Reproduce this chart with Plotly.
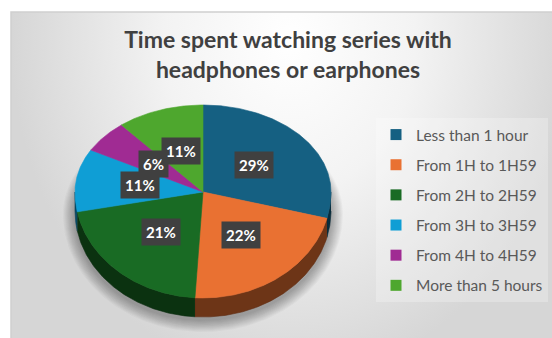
import numpy as np
import plotly.graph_objects as go

# ---- data -------------------------------------------------------------
categories = ["Less than 1 hour", "From 1H to 1H59", "From 2H to 2H59",
              "From 3H to 3H59", "From 4H to 4H59", "More than 5 hours"]
shares = [29, 22, 21, 11, 6, 11]
colors = ["#156082", "#E97132", "#196B24", "#0F9ED5", "#A02B93", "#4EA72E"]
title_text = "Time spent watching series with<br>headphones or earphones"

# ---- geometry of the tilted pie (pixel-like axis units) ---------------
W, H = 552, 338
CX, CY = 203, 192          # apex of the top face
RX = 128                   # horizontal radius
RY_BACK, RY_FRONT = 87, 106  # perspective: back half shorter than front
DEPTH = 19                 # thickness of the disc
LABEL_R = 0.5              # labels placed halfway along the mid-angle


def darker(hex_color, k=0.5):
    h = hex_color.lstrip("#")
    r, g, b = (int(h[i:i + 2], 16) for i in (0, 2, 4))
    return "#%02x%02x%02x" % (int(r * k), int(g * k), int(b * k))


def rim(theta_deg, dy=0.0, grow=0.0, scale=1.0):
    t = np.radians(np.asarray(theta_deg, dtype=float))
    ry = np.where(np.cos(t) > 0, RY_BACK, RY_FRONT) * scale + grow
    x = CX + (RX * scale + grow) * np.sin(t)
    y = CY - ry * np.cos(t) + dy
    return x, y


total = float(sum(shares))
ends = np.cumsum(shares) / total * 360.0
starts = np.concatenate([[0.0], ends[:-1]])

fig = go.Figure()

# background panel with a soft radial sheen (spike widens the bbox upward)
fig.add_trace(go.Scatter(
    x=[11, 11, 569, 569, 11, 11], y=[-300, 12, 12, 380, 380, 12],
    mode="lines", line=dict(width=0), fill="toself",
    fillgradient=dict(type="radial",
                      colorscale=[[0, "#ffffff"], [0.45, "#f3f3f3"], [1, "#d6d6d6"]]),
    hoverinfo="skip", showlegend=False))

# soft drop shadow under the disc
full = np.linspace(0, 360, 361)
for k in range(1, 13):
    sx, sy = rim(full, dy=DEPTH + 3, grow=k)
    fig.add_trace(go.Scatter(x=sx, y=sy, mode="lines", line=dict(width=0),
                             fill="toself", fillcolor="rgba(0,0,0,0.028)",
                             hoverinfo="skip", showlegend=False))

# visible side walls (front half of the disc)
for s, e, c in zip(starts, ends, colors):
    a, b = max(s, 90.0), min(e, 270.0)
    if a >= b:
        continue
    th = np.linspace(a, b, max(int(b - a) * 2, 2))
    tx, ty = rim(th)
    bx, by = rim(th[::-1], dy=DEPTH)
    fig.add_trace(go.Scatter(
        x=np.concatenate([tx, bx]), y=np.concatenate([ty, by]),
        mode="lines", line=dict(width=0.6, color=darker(c, 0.42)),
        fill="toself", fillcolor=darker(c, 0.47),
        hoverinfo="skip", showlegend=False))

# top face slices
for s, e, c, name in zip(starts, ends, colors, categories):
    th = np.linspace(s, e, max(int(e - s) * 2, 2))
    ax, ay = rim(th)
    fig.add_trace(go.Scatter(
        x=np.concatenate([[CX], ax, [CX]]), y=np.concatenate([[CY], ay, [CY]]),
        mode="lines", line=dict(width=0.6, color=c),
        fill="toself", fillcolor=c, name=name,
        hoverinfo="name", showlegend=False))

# percentage labels
for s, e, v in zip(starts, ends, shares):
    lx, ly = rim((s + e) / 2.0, scale=LABEL_R)
    fig.add_annotation(
        x=float(lx), y=float(ly), xref="x", yref="y",
        text="<b>%d%%</b>" % round(v / total * 100), showarrow=False,
        font=dict(family="Lato", size=15, color="white"),
        bgcolor="#404040", borderpad=4)

# legend entries
for i, (name, c) in enumerate(zip(categories, colors)):
    fig.add_trace(go.Scatter(
        x=[None], y=[None], mode="markers", name=name, legendgroup=str(i),
        marker=dict(symbol="square", size=11, color=c)))

# chart frame
fig.add_shape(type="rect", xref="x", yref="y", x0=-5, y0=-5, x1=W + 5, y1=12,
              fillcolor="white", line=dict(width=0), layer="above")
fig.add_shape(type="rect", xref="x", yref="y", x0=-5, y0=-5, x1=11, y1=H + 5,
              fillcolor="white", line=dict(width=0), layer="above")
fig.add_shape(type="rect", xref="x", yref="y", x0=11, y0=12, x1=W + 20, y1=H + 20,
              line=dict(color="#d0d0d0", width=1.5), layer="above")

fig.update_layout(
    width=W, height=H,
    margin=dict(l=0, r=0, t=0, b=0),
    paper_bgcolor="white", plot_bgcolor="white",
    xaxis=dict(range=[0, W], visible=False, fixedrange=True),
    yaxis=dict(range=[H, 0], visible=False, fixedrange=True),
    title=dict(text="<b>" + title_text + "</b>", x=288 / W, xanchor="center",
               y=1 - 48 / H, yanchor="middle",
               font=dict(family="Lato", size=23, color="#404040")),
    legend=dict(x=376 / W, xanchor="left", y=1 - 118 / H, yanchor="top",
                font=dict(family="Lato", size=15.5, color="#595959"),
                bgcolor="rgba(255,255,255,0.25)", tracegroupgap=7,
                itemclick=False, itemdoubleclick=False),
    showlegend=True,
)

fig.write_html("out.html")
